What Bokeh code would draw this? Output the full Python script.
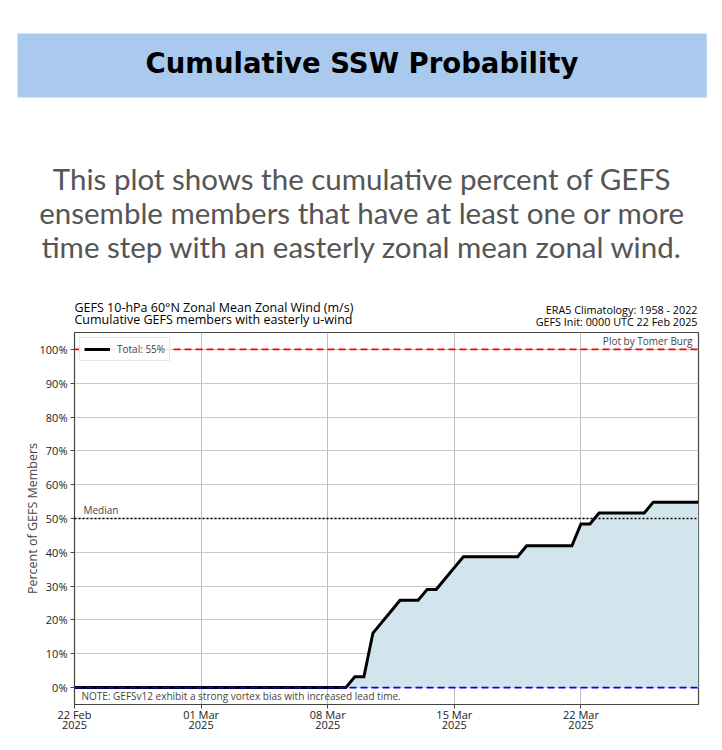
import datetime as dt
from bokeh.plotting import figure
from bokeh.models import (Range1d, FixedTicker, PrintfTickFormatter, Label, Span,
                          Legend, LegendItem, ColumnDataSource)
from bokeh.embed import file_html
from bokeh.resources import INLINE

# ---------------- data ----------------
init_time = dt.datetime(2025, 2, 22, 0)
lead_days = [0, 15, 15.5, 16, 16.5, 17, 17.5, 18, 19, 19.5, 20, 20.5, 21, 21.5,
             24.5, 25, 27.5, 28, 28.5, 29, 31.5, 32, 34.5]
members_easterly = [0, 0, 1, 1, 5, 6, 7, 8, 8, 9, 9, 10, 11, 12,
                    12, 13, 13, 15, 15, 16, 16, 17, 17]
n_members = 31
y_ticks = [0, 10, 20, 30, 40, 50, 60, 70, 80, 90, 100]
tick_dates = ["2025-02-22", "2025-03-01", "2025-03-08", "2025-03-15", "2025-03-22"]
tick_labels = ["22 Feb\n2025", "01 Mar\n2025", "08 Mar\n2025", "15 Mar\n2025", "22 Mar\n2025"]

title_text = "Cumulative SSW Probability"
subtitle_lines = ["This plot shows the cumulative percent of GEFS",
                  "ensemble members that have at least one or more",
                  "time step with an easterly zonal mean zonal wind."]
left_titles = ["GEFS 10-hPa 60°N Zonal Mean Zonal Wind (m/s)",
               "Cumulative GEFS members with easterly u-wind"]
right_titles = ["ERA5 Climatology: 1958 - 2022",
                "GEFS Init: 0000 UTC 22 Feb 2025"]

dates = [init_time + dt.timedelta(days=d) for d in lead_days]
percent = [m / n_members * 100 for m in members_easterly]

FONT = "Open Sans"

# ---------------- figure geometry ----------------
W, H = 722, 748
FL, FR, FT, FB = 74, 698, 332, 704          # frame edges in page pixels
X_DAYS = 34.5
Y0, Y1 = -5, 105
x_start = init_time
x_end = init_time + dt.timedelta(days=X_DAYS)


def x_at(px):
    return init_time + dt.timedelta(days=(px - FL) / (FR - FL) * X_DAYS)


def y_at(py):
    return Y1 - (py - FT) / (FB - FT) * (Y1 - Y0)


p = figure(width=W, height=H, x_axis_type="datetime",
           x_range=Range1d(x_start, x_end), y_range=Range1d(Y0, Y1),
           toolbar_location=None, output_backend="svg",
           min_border_left=FL, min_border_right=W - FR, min_border_top=FT,
           min_border_bottom=H - FB)
p.background_fill_color = "white"
p.border_fill_color = "white"


def hdr_label(px, py, text, **kw):
    # header text lives in the "above" side panel so it is not clipped to the frame
    p.add_layout(Label(x=x_at(px), y=y_at(py), text=text, **kw), "above")


# ---------------- header ----------------
hdr_label(17, 33, " ", background_fill_color="#a9c9ef", text_font_size="1px",
          padding=(0, 689, 0, 63), text_baseline="top", text_align="left")
hdr_label(361.5, 62, title_text, text_align="center", text_baseline="alphabetic",
          text_font="DejaVu Sans", text_font_style="bold", text_font_size="27.5px",
          text_color="black")
for i, line in enumerate(subtitle_lines):
    hdr_label(361.5, 178 + 34 * i, line, text_align="center", text_baseline="alphabetic",
              text_font="Lato", text_font_size="29.5px", text_color="#555555")
for i, line in enumerate(left_titles):
    hdr_label(74, 306.5 + 12.8 * i, line, text_align="left", text_baseline="alphabetic",
              text_font=FONT, text_font_size="12.5px", text_color="black")
for i, line in enumerate(right_titles):
    hdr_label(697, 309 + 11.5 * i, line, text_align="right", text_baseline="alphabetic",
              text_font=FONT, text_font_size="10.8px", text_color="black")

# ---------------- chart ----------------
src = ColumnDataSource(dict(x=dates, y=percent, y0=[0] * len(dates)))
p.varea(x="x", y1="y0", y2="y", source=src, fill_color="#d2e5ec")
ln = p.line(x="x", y="y", source=src, line_color="black", line_width=3, line_join="miter")

p.add_layout(Span(location=100, dimension="width", line_color="#ff0000", line_width=1.6, line_dash="7 4"))
p.add_layout(Span(location=0, dimension="width", line_color="#0000ff", line_width=1.6, line_dash="7 4"))
p.add_layout(Span(location=50, dimension="width", line_color="black", line_width=1.6, line_dash="2 2"))

epoch = dt.datetime(1970, 1, 1)
tick_ms = [(dt.datetime.strptime(t, "%Y-%m-%d") - epoch).total_seconds() * 1000 for t in tick_dates]
p.xaxis.ticker = FixedTicker(ticks=tick_ms)
p.xaxis.major_label_overrides = {int(t): lab for t, lab in zip(tick_ms, tick_labels)}
p.yaxis.ticker = FixedTicker(ticks=y_ticks)
p.yaxis.formatter = PrintfTickFormatter(format="%d%%")

for ax in (p.xaxis, p.yaxis):
    ax.major_tick_out = 4
    ax.major_tick_in = 0
    ax.minor_tick_line_color = None
    ax.axis_line_color = "#444444"
    ax.major_tick_line_color = "#444444"
    ax.major_label_text_font = FONT
    ax.major_label_text_font_size = "11px"
    ax.major_label_text_color = "#222222"
    ax.major_label_standoff = 3
p.xaxis.major_label_text_line_height = 0.68
p.xaxis.major_label_standoff = -2
p.yaxis.axis_label = "Percent of GEFS Members"
p.yaxis.axis_label_text_font = FONT
p.yaxis.axis_label_text_font_size = "12.5px"
p.yaxis.axis_label_text_font_style = "normal"
p.yaxis.axis_label_standoff = -4

p.xgrid.grid_line_color = "#bdbdbd"
p.ygrid.grid_line_color = "#c8c8c8"
p.outline_line_color = "#444444"
p.outline_line_width = 1.2

p.add_layout(Label(x=x_at(83), y=y_at(509), text="Median",
                   text_font=FONT, text_font_size="10px", text_baseline="middle"))
p.add_layout(Label(x=x_at(692), y=y_at(340), text="Plot by Tomer Burg",
                   text_font=FONT, text_font_size="10px", text_align="right",
                   text_baseline="middle"))
p.add_layout(Label(x=x_at(81), y=y_at(695),
                   text="NOTE: GEFSv12 exhibit a strong vortex bias with increased lead time.",
                   text_font=FONT, text_font_size="10px", text_baseline="middle"))

total_label = "Total: %d%%" % round(percent[-1])
legend = Legend(items=[LegendItem(label=total_label, renderers=[ln])], location="top_left",
                margin=5, padding=4, spacing=0, label_standoff=7, glyph_width=26,
                glyph_height=12, label_height=12, label_text_font=FONT,
                label_text_font_size="10px", border_line_color="#d0d0d0",
                background_fill_alpha=0.9)
p.add_layout(legend)

open("out.html", "w").write(file_html(p, INLINE))
